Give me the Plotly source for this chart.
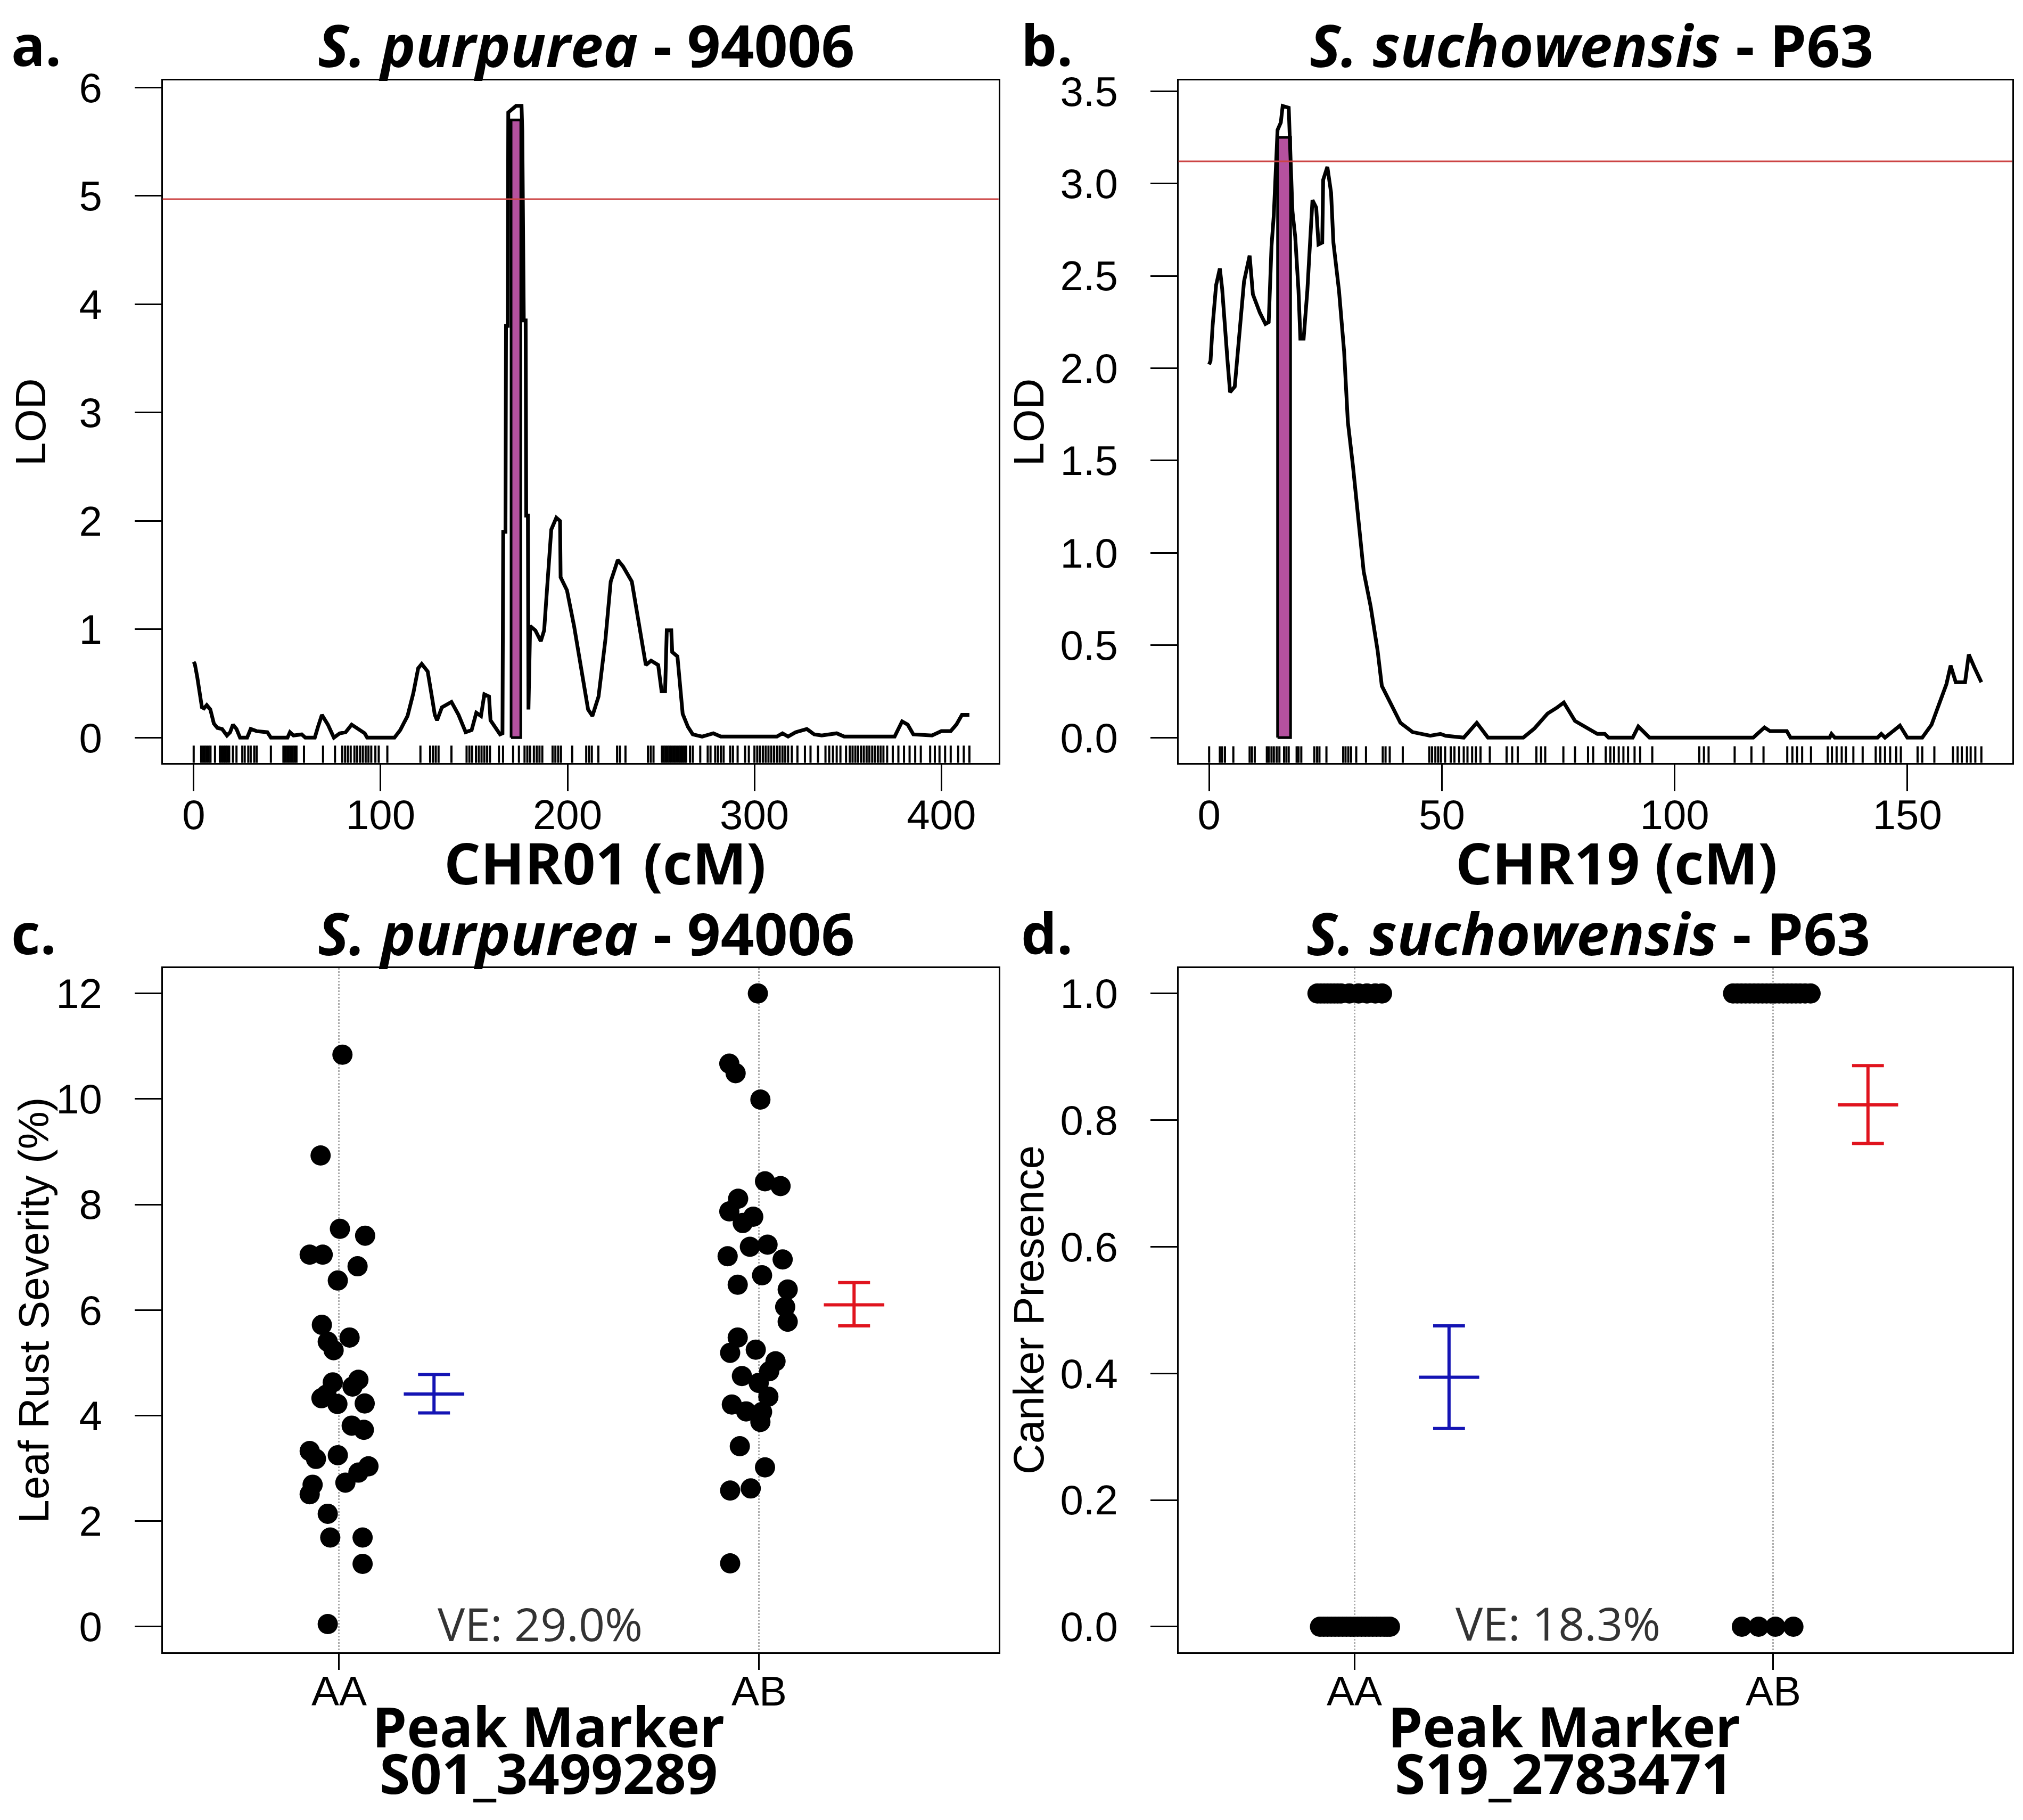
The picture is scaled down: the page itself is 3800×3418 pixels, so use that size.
import plotly.graph_objects as go

# ---- panel a: S. purpurea 94006, CHR01 LOD profile ----
pos_a = [0, 0.6, 1.9, 3.2, 4.4, 5.5, 7, 8.9, 10.8, 12.7, 15.2, 17.8, 19.5, 21, 22.9, 24.8, 28.6,
         30.5, 33.7, 39.4, 41.3, 50.2, 51.5, 53.4, 57.8, 59.7, 64.8, 66.5, 68.6, 71.8, 75, 78.1,
         81.3, 84.5, 87, 91.5, 92.8, 107.4, 110.5, 114.4, 117.5, 120.1, 122, 125.2, 127.7, 129,
         130.2, 132.8, 137.9, 141.7, 145.5, 148.7, 151.2, 153.7, 155.5, 158, 158.8, 161.4, 163.9,
         165.2, 165.6, 166.8, 167.1, 168.0, 168.3, 172.5, 175.4, 175.8, 176.6, 177.6, 177.9, 178.8,
         179.1, 180, 182.8, 185.7, 187.5, 188.5, 191.3, 194, 196, 196.3, 199.7, 203.5, 207.2, 211,
         213.3, 216.6, 220.3, 223.1, 226.9, 229.7, 234.4, 238.1, 241.9, 244.7, 248.5, 250.3, 252.2,
         253.1, 255.5, 256, 258.8, 261.6, 264.4, 267, 272, 278, 282, 312, 315, 318, 322, 328, 332,
         336, 344, 348, 375, 379, 382, 385, 395, 400, 405, 408, 411, 415]
lod_a = [0.70, 0.68, 0.56, 0.41, 0.28, 0.27, 0.30, 0.26, 0.13, 0.09, 0.08, 0.02, 0.05, 0.12, 0.08, 0.0, 0.0,
         0.08, 0.06, 0.05, 0.0, 0.0, 0.05, 0.02, 0.03, 0.0, 0.0, 0.10, 0.21, 0.12, 0.0, 0.04,
         0.05, 0.12, 0.09, 0.04, 0.0, 0.0, 0.07, 0.20, 0.41, 0.64, 0.68, 0.61, 0.35, 0.21,
         0.16, 0.28, 0.33, 0.21, 0.05, 0.07, 0.23, 0.20, 0.40, 0.38, 0.16, 0.10, 0.03,
         0.04, 1.90, 1.90, 3.80, 3.80, 5.77, 5.83, 5.83, 5.60, 3.85, 3.85, 2.05, 2.05,
         0.26, 1.03, 0.99, 0.89, 0.99, 1.24, 1.92, 2.03, 2.00, 1.48, 1.36, 1.03, 0.63, 0.26,
         0.20, 0.38, 0.91, 1.44, 1.64, 1.58, 1.44, 1.07, 0.67, 0.71, 0.67, 0.43, 0.43,
         0.99, 0.99, 0.79, 0.75, 0.22, 0.10, 0.03, 0.01, 0.04, 0.01, 0.01, 0.04, 0.01, 0.05, 0.08, 0.03,
         0.02, 0.04, 0.01, 0.01, 0.15, 0.12, 0.03, 0.02, 0.06, 0.06, 0.12, 0.21, 0.21]
markers_a = [0, 4, 5, 6, 7, 8, 9, 11.4, 14, 15, 16, 17, 18, 19, 21, 22.9, 26, 27.3, 29.2, 30.5, 32.4,
             33.7, 41.3, 48, 49, 50, 51, 52, 53, 54, 55, 59, 69.2, 75.6, 79.5, 81, 82.5, 84, 86, 87.5,
             89, 90.5, 92, 93.5, 95, 97.2, 99, 103.6, 121.3, 126.5, 128, 129.5, 131, 137.9, 146, 147.5,
             149, 151, 152.5, 154, 155.5, 157, 158.5, 163.3, 165.5, 170.9, 174, 177, 178.5, 180, 182,
             183.5, 185, 186.5, 192, 193.5, 195, 196.5, 202.5, 210, 211.5, 213, 216.5, 226.5, 228, 231,
             243, 244.5, 246, 250.5, 251.5, 252.5, 253.5, 254.5, 255.5, 256.5, 257.5, 258.5, 259.5,
             260.5, 261.5, 262.5, 263.5, 265.5, 267, 271, 275, 276.5, 279, 280.5, 282, 283.5, 287,
             288.5, 291, 295, 297, 300, 301.5, 303, 304.5, 306, 307.5, 309, 310.5, 312, 313.5, 315,
             316.5, 318, 320, 323, 327, 330, 334, 338, 340, 342, 344, 346, 349, 351, 352.5, 354, 355.5,
             357, 358.5, 360, 361.5, 363, 364.5, 366, 367.5, 369, 371, 374, 377, 380, 383, 386, 389,
             394, 396.5, 399, 402, 405, 409, 412, 415]
thr_a = 4.97
ci_a = [169.8, 175.0]
ci_top_a = 5.7

# ---- panel b: S. suchowensis P63, CHR19 LOD profile ----
pos_b = [0, 0.3, 0.75, 1.5, 2.3, 2.8, 3.95, 4.5, 5.5, 6.6, 7.5, 8.7, 9.4, 10.9, 12.1, 12.8, 13.4, 13.9,
         14.3, 14.7, 15.4, 15.8, 17.1, 17.5, 17.9, 18.5, 19.2, 19.6, 20.3, 21.1, 21.7, 22.2, 23, 23.5,
         24.3, 24.5, 25.4, 26.2, 26.7, 27.9, 29, 29.8, 30.9, 32, 33.2, 34.7, 36.2, 37.1, 39.2, 41.1,
         43.7, 47.5, 49.7, 50.8, 54.7, 57.5, 59.9, 67.5, 69.9, 72.7, 74.6, 76.2, 78.6, 81.8, 83.4,
         85, 85.8, 91, 92.2, 94.6, 116.9, 119.3, 120.5, 124.1, 124.9, 133.3, 133.7, 134.4, 143.6,
         144.4, 145.2, 148.4, 150, 153.2, 155.2, 156.8, 158.4, 159.3, 160.4, 162.4, 163.2, 164.4, 165.9]
lod_b = [2.02, 2.04, 2.23, 2.45, 2.54, 2.43, 2.04, 1.87, 1.90, 2.23, 2.47, 2.61, 2.40, 2.30, 2.24, 2.25, 2.66, 2.83,
         3.02, 3.29, 3.33, 3.42, 3.41, 3.09, 2.85, 2.71, 2.42, 2.16, 2.16, 2.42, 2.73, 2.91, 2.87, 2.67,
         2.68, 3.02, 3.09, 2.95, 2.68, 2.42, 2.09, 1.71, 1.47, 1.18, 0.90, 0.71, 0.47, 0.28, 0.18, 0.08,
         0.03, 0.01, 0.02, 0.01, 0.0, 0.08, 0.0, 0.0, 0.05, 0.13, 0.16, 0.19, 0.09, 0.04, 0.02,
         0.02, 0.0, 0.0, 0.06, 0.0, 0.0, 0.055, 0.035, 0.035, 0.0, 0.0, 0.02, 0.0, 0.0,
         0.02, 0.0, 0.065, 0.0, 0.0, 0.07, 0.18, 0.29, 0.39, 0.30, 0.30, 0.45, 0.38, 0.30]
markers_b = [0, 2.3, 2.8, 3.4, 5.2, 8.7, 9.2, 9.8, 12.4, 12.8, 13.4, 13.9, 14.5, 15.1, 16.1, 16.6, 17.1,
             18.8, 19.2, 19.8, 22.6, 23.2, 23.7, 25.2, 28.8, 29.3, 29.9, 30.5, 31.6, 33.7, 37.3, 37.9,
             38.8, 41.6, 47.3, 47.9, 48.6, 49.2, 49.8, 50.7, 51.9, 52.7, 53.7, 54.7, 55.5, 56.5, 57.3,
             58.3, 60.3, 63.9, 65.1, 66.3, 70.3, 71.3, 72.2, 76.1, 78.6, 81.4, 82.5, 85.2, 86.2, 87, 88,
             89, 90, 91.4, 92.6, 95.2, 105.3, 106.3, 107.3, 112.9, 116.5, 119.1, 124.2, 125.3, 126.3,
             127.4, 129.3, 132.9, 133.8, 134.8, 135.9, 136.8, 138.4, 140.4, 143.2, 144.2, 145.2, 146.3,
             147.6, 148.6, 152.2, 153.2, 155.8, 159.8, 160.8, 161.7, 162.8, 163.6, 164.6, 165.9]
thr_b = 3.12
ci_b = [14.7, 17.5]
ci_top_b = 3.25

# ---- panel c: leaf rust severity by genotype at S01_3499289 ----
rust_aa = [10.84, 8.93, 7.54, 7.41, 7.05, 7.05, 6.83, 6.56, 5.72, 5.48, 5.40, 5.24, 4.63, 4.68, 4.55,
           4.33, 4.22, 4.23, 4.40, 3.81, 3.73, 3.33, 3.18, 3.25, 3.04, 2.92, 2.73, 2.69, 2.51, 2.14,
           1.69, 1.69, 1.19, 0.05]
jit_aa = [0.008, -0.044, 0.002, 0.062, -0.070, -0.039, 0.044, -0.003, -0.041, 0.025, -0.027, -0.013,
          -0.015, 0.046, 0.032, -0.042, -0.004, 0.061, -0.030, 0.030, 0.059, -0.070, -0.055, -0.003,
          0.070, 0.046, 0.015, -0.063, -0.070, -0.027, -0.021, 0.056, 0.056, -0.027]
rust_ab = [12.0, 10.67, 10.49, 9.99, 8.44, 8.35, 8.11, 7.87, 7.65, 7.77, 7.20, 7.24, 7.02, 6.96, 6.66,
           6.48, 6.39, 6.06, 5.78, 5.48, 5.19, 5.25, 5.03, 4.84, 4.75, 4.62, 4.36, 4.21, 4.08, 3.88,
           4.07, 3.42, 3.02, 2.58, 2.62, 1.20]
jit_ab = [-0.003, -0.071, -0.056, 0.003, 0.014, 0.051, -0.050, -0.071, -0.039, -0.014, -0.022, 0.020,
          -0.075, 0.056, 0.007, -0.051, 0.068, 0.062, 0.068, -0.051, -0.069, -0.008, 0.039, 0.024,
          -0.041, -0.001, 0.022, -0.065, -0.031, 0.003, 0.007, -0.046, 0.014, -0.069, -0.020, -0.069]
rust_mean = [4.41, 6.10]
rust_lo = [4.05, 5.70]
rust_hi = [4.78, 6.52]
ve_c = "VE: 29.0%"

# ---- panel d: canker presence by genotype at S19_2783471 ----
cank_aa = [1] * 13 + [0] * 20
jit_cank_aa = [-0.088, -0.080, -0.072, -0.064, -0.056, -0.048, -0.040, -0.032, -0.012, 0.010, 0.030,
               0.050, 0.066,
               -0.082, -0.073, -0.064, -0.055, -0.046, -0.037, -0.028, -0.019, -0.010, -0.001, 0.008,
               0.017, 0.026, 0.035, 0.044, 0.053, 0.062, 0.071, 0.078, 0.085]
cank_ab = [1] * 19 + [0] * 4
jit_cank_ab = [-0.096, -0.086, -0.076, -0.066, -0.056, -0.046, -0.036, -0.026, -0.016, -0.006, 0.004,
               0.014, 0.024, 0.034, 0.044, 0.054, 0.064, 0.076, 0.089,
               -0.075, -0.035, 0.005, 0.048]
cank_mean = [0.394, 0.824]
cank_lo = [0.313, 0.763]
cank_hi = [0.475, 0.886]
ve_d = "VE: 18.3%"

genotypes = ["AA", "AB"]
bar_colors = ["#1414B4", "#E0141E"]
bar_shift = 0.226

TICK_FONT = dict(family="Liberation Sans", size=78, color="black")
BOLD = "Open Sans"
DX, DY = 0.003, 0.0095   # nudge for page offset


def axis(domain, rng, anchor, **kw):
    d = dict(domain=domain, range=rng, anchor=anchor, showline=True, mirror=True,
             linecolor="black", linewidth=3, ticks="outside", ticklen=50, tickwidth=3,
             tickcolor="black", showgrid=False, zeroline=False, tickfont=TICK_FONT)
    d.update(kw)
    return d


def rug(markers, y0, y1):
    xs, ys = [], []
    for m in markers:
        xs += [m, m, None]
        ys += [y0, y1, None]
    return xs, ys


def errbar(xc, lo, hi, mean):
    cap, half = 0.038, 0.072
    xs = [xc - cap, xc + cap, None, xc, xc, None, xc - cap, xc + cap, None, xc - half, xc + half]
    ys = [hi, hi, None, hi, lo, None, lo, lo, None, mean, mean]
    return xs, ys


fig = go.Figure()

# panel a
yr_a = [-0.233, 6.063]
fig.add_trace(go.Scatter(x=[ci_a[0], ci_a[0], ci_a[1], ci_a[1], ci_a[0]],
                         y=[0, ci_top_a, ci_top_a, 0, 0], fill="toself", fillcolor="#B5519F",
                         mode="lines", line=dict(color="black", width=5), xaxis="x", yaxis="y"))
fig.add_trace(go.Scatter(x=pos_a, y=lod_a, mode="lines", line=dict(color="black", width=7),
                         xaxis="x", yaxis="y"))
rx, ry = rug(markers_a, yr_a[0], yr_a[0] + 0.16)
fig.add_trace(go.Scatter(x=rx, y=ry, mode="lines", line=dict(color="black", width=4),
                         xaxis="x", yaxis="y"))

# panel b
yr_b = [-0.137, 3.557]
fig.add_trace(go.Scatter(x=[ci_b[0], ci_b[0], ci_b[1], ci_b[1], ci_b[0]],
                         y=[0, ci_top_b, ci_top_b, 0, 0], fill="toself", fillcolor="#B5519F",
                         mode="lines", line=dict(color="black", width=5), xaxis="x2", yaxis="y2"))
fig.add_trace(go.Scatter(x=pos_b, y=lod_b, mode="lines", line=dict(color="black", width=7),
                         xaxis="x2", yaxis="y2"))
rx, ry = rug(markers_b, yr_b[0], yr_b[0] + 0.09)
fig.add_trace(go.Scatter(x=rx, y=ry, mode="lines", line=dict(color="black", width=4),
                         xaxis="x2", yaxis="y2"))

# panel c
fig.add_trace(go.Scatter(x=[1 + j for j in jit_aa] + [2 + j for j in jit_ab], y=rust_aa + rust_ab,
                         mode="markers", marker=dict(color="black", size=38),
                         xaxis="x3", yaxis="y3"))
for i in range(2):
    ex, ey = errbar(i + 1 + bar_shift, rust_lo[i], rust_hi[i], rust_mean[i])
    fig.add_trace(go.Scatter(x=ex, y=ey, mode="lines", line=dict(color=bar_colors[i], width=6),
                             xaxis="x3", yaxis="y3"))

# panel d
fig.add_trace(go.Scatter(x=[1 + j for j in jit_cank_aa] + [2 + j for j in jit_cank_ab],
                         y=cank_aa + cank_ab, mode="markers", marker=dict(color="black", size=38),
                         xaxis="x4", yaxis="y4"))
for i in range(2):
    ex, ey = errbar(i + 1 + bar_shift, cank_lo[i], cank_hi[i], cank_mean[i])
    fig.add_trace(go.Scatter(x=ex, y=ey, mode="lines", line=dict(color=bar_colors[i], width=6),
                             xaxis="x4", yaxis="y4"))

left = [0.0813 - DX, 0.4945 - DX]
right = [0.5834 - DX, 0.9955 - DX]
top = [0.579 + DY, 0.9573 + DY]
bottom = [0.0860 + DY, 0.4652 + DY]
cat_axis = dict(tickvals=[1, 2], ticktext=genotypes, ticklen=30, showgrid=True,
                gridcolor="#AAAAAA", griddash="dot", gridwidth=3, ticklabelstandoff=-26)

fig.update_layout(
    width=3800, height=3418, margin=dict(l=0, r=0, t=0, b=0),
    paper_bgcolor="white", plot_bgcolor="white", showlegend=False,
    xaxis=axis(left, [-16.6, 430.6], "y", tickvals=[0, 100, 200, 300, 400], ticklabelstandoff=-22),
    yaxis=axis(top, yr_a, "x", tickvals=[0, 1, 2, 3, 4, 5, 6], ticklabelstandoff=45),
    xaxis2=axis(right, [-6.6, 172.5], "y2", tickvals=[0, 50, 100, 150], ticklabelstandoff=-22),
    yaxis2=axis(top, yr_b, "x2", tickvals=[0, 0.5, 1, 1.5, 2, 2.5, 3, 3.5], tickformat=".1f",
                ticklabelstandoff=45),
    xaxis3=axis(left, [0.58, 2.57], "y3", **cat_axis),
    yaxis3=axis(bottom, [-0.48, 12.48], "x3", tickvals=[0, 2, 4, 6, 8, 10, 12], ticklabelstandoff=45),
    xaxis4=axis(right, [0.58, 2.57], "y4", **cat_axis),
    yaxis4=axis(bottom, [-0.04, 1.04], "x4", tickvals=[0, 0.2, 0.4, 0.6, 0.8, 1.0], tickformat=".1f",
                ticklabelstandoff=45),
)

fig.add_shape(type="line", xref="x domain", yref="y", x0=0, x1=1, y0=thr_a, y1=thr_a,
              line=dict(color="#CC4444", width=3))
fig.add_shape(type="line", xref="x2 domain", yref="y2", x0=0, x1=1, y0=thr_b, y1=thr_b,
              line=dict(color="#CC4444", width=3))

ann = []


def text(x, y, s, size, family=BOLD, angle=0, xanchor="center", xref="paper", yref="paper",
         color="black"):
    if xref == "paper":
        x -= DX
    if yref == "paper":
        y += DY
    ann.append(dict(x=x, y=y, xref=xref, yref=yref, text=s, showarrow=False, textangle=angle,
                    xanchor=xanchor, yanchor="middle", font=dict(family=family, size=size, color=color)))


text(0.006, 0.9775, "<b>a.</b>", 106, xanchor="left")
text(0.505, 0.9775, "<b>b.</b>", 106, xanchor="left")
text(0.006, 0.485, "<b>c.</b>", 106, xanchor="left")
text(0.505, 0.485, "<b>d.</b>", 106, xanchor="left")
text(0.2905, 0.9775, "<b><i>S. purpurea</i> - 94006</b>", 110)
text(0.7876, 0.9775, "<b><i>S. suchowensis</i> - P63</b>", 110)
text(0.2905, 0.485, "<b><i>S. purpurea</i> - 94006</b>", 110)
text(0.786, 0.485, "<b><i>S. suchowensis</i> - P63</b>", 110)
text(0.300, 0.524, "<b>CHR01 (cM)</b>", 108)
text(0.800, 0.524, "<b>CHR19 (cM)</b>", 108)
text(0.272, 0.0452, "<b>Peak Marker</b>", 104)
text(0.272, 0.0192, "<b>S01_3499289</b>", 104)
text(0.774, 0.0452, "<b>Peak Marker</b>", 104)
text(0.774, 0.0192, "<b>S19_2783471</b>", 104)
text(0.016, 0.768, "LOD", 80, family="Liberation Sans", angle=-90)
text(0.5095, 0.768, "LOD", 80, family="Liberation Sans", angle=-90)
text(0.0176, 0.2756, "Leaf Rust Severity (%)", 80, family="Liberation Sans", angle=-90)
text(0.5095, 0.2756, "Canker Presence", 80, family="Liberation Sans", angle=-90)
text(1.478, 0.07, ve_c, 86, family="Open Sans", xref="x3", yref="y3", color="#333333")
text(1.486, 0.006, ve_d, 86, family="Open Sans", xref="x4", yref="y4", color="#333333")

fig.update_layout(annotations=ann)
fig.write_html("out.html")
